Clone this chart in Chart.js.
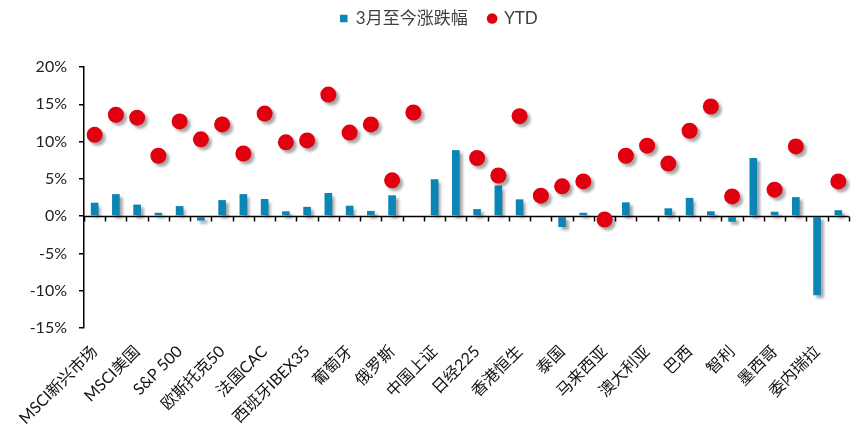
<!DOCTYPE html>
<html>
<head>
<meta charset="utf-8">
<script src="https://cdn.jsdelivr.net/npm/chart.js@4/dist/chart.umd.min.js"></script>
<style>
  html, body { margin: 0; padding: 0; background: #ffffff; }
  canvas { display: block; }
</style>
</head>
<body>
<canvas id="chart" width="858" height="435"></canvas>
<script>
// Markets (only every other name is printed on the axis)
const markets = [
  'MSCI新兴市场', '', 'MSCI美国', '', 'S&P 500', '', '欧斯托克50', '',
  '法国CAC', '', '西班牙IBEX35', '', '葡萄牙', '', '俄罗斯', '',
  '中国上证', '', '日经225', '', '香港恒生', '', '泰国', '',
  '马来西亚', '', '澳大利亚', '', '巴西', '', '智利', '',
  '墨西哥', '', '委内瑞拉', ''
];

// Change since March (%)
const sinceMarch = [
  1.8, 2.95, 1.55, 0.45, 1.35, -0.6, 2.15, 2.95,
  2.3, 0.65, 1.25, 3.1, 1.4, 0.7, 2.8, -0.1,
  4.95, 8.85, 0.95, 4.1, 2.25, 0, -1.45, 0.45,
  0, 1.85, -0.1, 1.05, 2.45, 0.65, -0.75, 7.8,
  0.6, 2.55, -10.6, 0.8
];

// Year-to-date change (%)
const ytd = [
  10.9, 13.6, 13.2, 8.1, 12.7, 10.3, 12.3, 8.4,
  13.75, 9.9, 10.15, 16.3, 11.2, 12.3, 4.8, 13.9,
  null, null, 7.8, 5.45, 13.4, 2.75, 4.0, 4.65,
  -0.45, 8.1, 9.45, 7.05, 11.45, 14.7, 2.65, null,
  3.55, 9.35, null, 4.65
];

const yTicks = { min: -15, max: 20, step: 5 };

const BLUE = '#0a85b6';
const RED = '#e0000f';
const FONT = 'Lato, "Noto Sans CJK SC", sans-serif';

// zero axis with category tick marks, then a soft drop shadow under bars and dots
const zeroAxisAndShadow = {
  id: 'zeroAxisAndShadow',
  beforeDatasetsDraw(chart) {
    const c = chart.ctx;
    const xs = chart.scales.x;
    const ys = chart.scales.y;
    const y0 = Math.round(ys.getPixelForValue(0)) + 0.5;
    const n = xs.ticks.length;
    const edges = [xs.left];
    for (let i = 0; i < n - 1; i++) {
      edges.push((xs.getPixelForTick(i) + xs.getPixelForTick(i + 1)) / 2);
    }
    edges.push(xs.right);
    c.save();
    c.strokeStyle = '#000';
    c.lineWidth = 1.5;
    c.beginPath();
    c.moveTo(xs.left, y0);
    c.lineTo(xs.right, y0);
    edges.forEach(x => {
      const px = Math.round(x) + 0.5;
      c.moveTo(px, y0);
      c.lineTo(px, y0 + 5);
    });
    c.stroke();
    c.restore();

    c.save();
    c.shadowColor = 'rgba(0,0,0,0.35)';
    c.shadowBlur = 3;
    c.shadowOffsetX = 3;
    c.shadowOffsetY = 3;
  },
  afterDatasetsDraw(chart) {
    chart.ctx.restore();
  }
};

new Chart(document.getElementById('chart'), {
  data: {
    labels: markets,
    datasets: [
      {
        type: 'bar',
        label: '3月至今涨跌幅',
        data: sinceMarch,
        backgroundColor: BLUE,
        borderWidth: 0,
        barPercentage: 0.36,
        categoryPercentage: 1,
        order: 2
      },
      {
        type: 'line',
        label: 'YTD',
        data: ytd,
        showLine: false,
        pointStyle: 'circle',
        pointRadius: 8,
        pointHoverRadius: 8,
        pointBorderWidth: 0,
        pointBackgroundColor: RED,
        backgroundColor: RED,
        borderColor: RED,
        order: 1
      }
    ]
  },
  options: {
    responsive: false,
    animation: false,
    devicePixelRatio: 1,
    layout: { padding: { top: -20, right: 8, bottom: 0, left: 28 } },
    plugins: {
      tooltip: { enabled: false },
      // empty spacer between the legend and the plot
      title: {
        display: true,
        text: '',
        position: 'top',
        weight: 500,
        font: { size: 10, lineHeight: 1 },
        padding: { top: 0, bottom: 20 }
      },
      legend: {
        position: 'top',
        labels: {
          usePointStyle: true,
          boxWidth: 7,
          boxHeight: 7.5,
          padding: 21,
          color: '#404040',
          font: { family: FONT, size: 17 },
          sort: (a, b) => a.datasetIndex - b.datasetIndex,
          generateLabels(chart) {
            const items = Chart.defaults.plugins.legend.labels.generateLabels(chart);
            items.forEach(it => {
              it.pointStyle = it.datasetIndex === 0 ? 'rect' : 'circle';
              it.lineWidth = 0;
            });
            return items;
          }
        }
      }
    },
    scales: {
      x: {
        type: 'category',
        position: 'bottom',
        offset: true,
        grid: { display: false },
        border: { display: false },
        ticks: {
          autoSkip: false,
          maxRotation: 45,
          minRotation: 45,
          padding: 6,
          color: '#111',
          font: { family: FONT, size: 16 }
        },
        afterFit(scale) { scale.height = 107; }
      },
      y: {
        min: yTicks.min,
        max: yTicks.max,
        grid: {
          drawOnChartArea: false,
          drawTicks: true,
          tickLength: 5,
          color: '#000',
          lineWidth: 1.5
        },
        border: { display: true, color: '#000', width: 1.5 },
        ticks: {
          stepSize: yTicks.step,
          padding: 12,
          color: '#222',
          font: { family: FONT, size: 16 },
          callback: v => v + '%'
        },
        afterFit(scale) {
          scale.width = 56;
          scale.paddingTop = 67;
        }
      }
    }
  },
  plugins: [zeroAxisAndShadow]
});
</script>
</body>
</html>
